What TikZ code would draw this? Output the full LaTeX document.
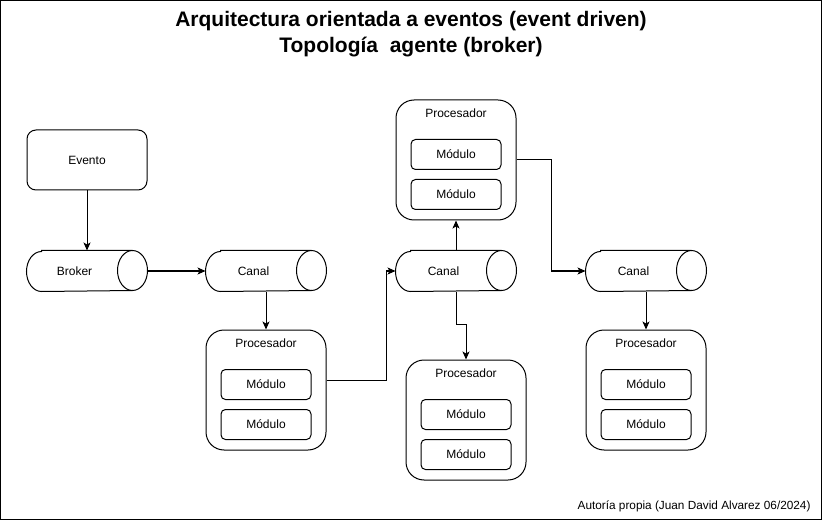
\documentclass[tikz,border=0pt]{standalone}
\usepackage{fontspec}
\setmainfont{Liberation Sans}
\usetikzlibrary{arrows.meta}
\newcommand\cylshape[1]{%
  \draw ([xshift=15pt]#1.north west) -- ([xshift=-15pt]#1.north east)
    arc[start angle=90,end angle=-90,x radius=15pt,y radius=20pt]
    -- ([xshift=15pt]#1.south west)
    arc[start angle=270,end angle=90,x radius=15pt,y radius=20pt] -- cycle;
  \draw ([xshift=-15pt]#1.north east) arc[start angle=90,end angle=270,x radius=15pt,y radius=20pt];}
\newcommand\procbox[3]{%
  \node[procst] (#1) at (#2,#3) {};
  \node (#1t) at ([yshift=-13.5pt]#1.north) {Procesador};
  \node[modst] (#1a) at ([yshift=-55pt]#1.north) {Módulo};
  \node[modst] (#1b) at ([yshift=-95pt]#1.north) {Módulo};}
\begin{document}
\begin{tikzpicture}[x=1pt,y=-1pt,line width=1pt,
  every node/.style={font=\fontsize{12}{14}\selectfont, inner sep=0pt},
  evbox/.style={draw, rounded corners=9pt, minimum width=120pt, minimum height=60pt},
  procst/.style={draw, rounded corners=18pt, minimum width=120pt, minimum height=120pt},
  modst/.style={draw, rounded corners=4.5pt, minimum width=90pt, minimum height=30pt},
  cyl/.style={minimum width=120pt, minimum height=40pt},
  conn/.style={-{Stealth[length=8pt,width=7pt,inset=2pt]}}]
\useasboundingbox (0,0) rectangle (824,521);
\draw (0.5,0.5) rectangle (821.5,519.5);
\node[anchor=base, font=\bfseries\fontsize{21}{26}\selectfont] (title1) at (411,27) {Arquitectura orientada a eventos (event driven)};
\node[anchor=base, font=\bfseries\fontsize{21}{26}\selectfont] (title2) at (411,53) {Topología\ \ agente (broker)};
\node[evbox] (evento) at (87,160) {Evento};
\node[cyl] (broker) at (87,271) {Broker\kern25pt};
\node[cyl] (canal1) at (266,271) {Canal\kern25pt};
\node[cyl] (canal2) at (456,271) {Canal\kern25pt};
\node[cyl] (canal3) at (646,271) {Canal\kern25pt};
\cylshape{broker}
\cylshape{canal1}
\cylshape{canal2}
\cylshape{canal3}
\procbox{proc1}{266}{390}
\procbox{procT}{456}{160}
\procbox{procM}{466}{420}
\procbox{procR}{646}{390}
\draw[conn] (evento.south) -- (broker.north);
\draw[conn] (broker.east) -- (canal1.west);
\draw[conn] (canal1.south) -- (proc1.north);
\draw[conn] ([yshift=10pt]proc1.east) -- ++(60,0) |- (canal2.west);
\draw[conn] (canal2.north) -- (procT.south);
\draw[conn] (procT.east) -- ++(35,0) |- (canal3.west);
\draw[conn] (canal2.south) -- ++(0,33) -| (procM.north);
\draw[conn] (canal3.south) -- (procR.north);
\node[anchor=base east, font=\fontsize{11.8}{14}\selectfont] (credit) at (811,509) {Autoría propia (Juan David Alvarez 06/2024)};
\end{tikzpicture}
\end{document}
